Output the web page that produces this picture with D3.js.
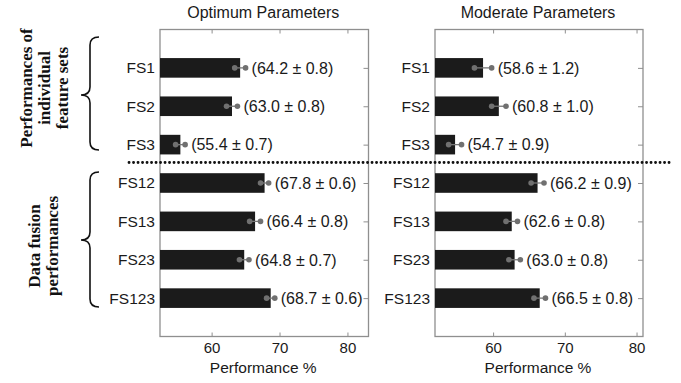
<!DOCTYPE html>
<html>
<head>
<meta charset="utf-8">
<script src="https://cdn.jsdelivr.net/npm/d3@7"></script>
<style>
  body { margin: 0; background: #fff; }
  svg { display: block; }
</style>
</head>
<body>
<svg width="681" height="383"></svg>
<script>
var categories = ["FS1", "FS2", "FS3", "FS12", "FS13", "FS23", "FS123"];
var optMean = [64.2, 63.0, 55.4, 67.8, 66.4, 64.8, 68.7];
var optSd   = [0.8, 0.8, 0.7, 0.6, 0.8, 0.7, 0.6];
var modMean = [58.6, 60.8, 54.7, 66.2, 62.6, 63.0, 66.5];
var modSd   = [1.2, 1.0, 0.9, 0.9, 0.8, 0.8, 0.8];
var xTicks = [60, 70, 80];
var panelTitles = ["Optimum Parameters", "Moderate Parameters"];
var axisTitle = "Performance %";

var svg = d3.select("svg");
var plotTop = 29.5, plotBottom = 336.5;
var sans = "'Liberation Sans', Arial, sans-serif";
var serif = "'Liberation Serif', 'Times New Roman', serif";
var frameColor = "#8f8f8f";

var y = d3.scalePoint()
    .domain(categories)
    .range([plotTop, plotBottom])
    .padding(1);

function drawPanel(left, right, domain, means, sds, title) {
  var x = d3.scaleLinear().domain(domain).range([left, right]);
  var g = svg.append("g");

  var rows = categories.map(function(c, i) {
    return {cat: c, mean: means[i], sd: sds[i]};
  });

  // bottom axis, ticks pointing in
  var bAxis = g.append("g")
      .attr("transform", "translate(0," + plotBottom + ")")
      .call(d3.axisBottom(x).tickValues(xTicks).tickSize(-4).tickPadding(6));
  bAxis.select(".domain").remove();
  bAxis.selectAll("line").attr("stroke", frameColor);
  bAxis.selectAll("text").attr("font-family", sans).attr("font-size", 15).attr("fill", "#1a1a1a");

  var tAxis = g.append("g")
      .attr("transform", "translate(0," + plotTop + ")")
      .call(d3.axisTop(x).tickValues(xTicks).tickSize(-4).tickFormat(""));
  tAxis.select(".domain").remove();
  tAxis.selectAll("line").attr("stroke", frameColor);

  var rAxis = g.append("g")
      .attr("transform", "translate(" + right + ",0)")
      .call(d3.axisRight(y).tickSize(-5).tickFormat(""));
  rAxis.select(".domain").remove();
  rAxis.selectAll("line").attr("stroke", frameColor);

  var lAxis = g.append("g")
      .attr("transform", "translate(" + left + ",0)")
      .call(d3.axisLeft(y).tickSize(0).tickPadding(5));
  lAxis.select(".domain").remove();
  lAxis.selectAll("text").attr("font-family", sans).attr("font-size", 15.5).attr("fill", "#1a1a1a");

  g.append("rect")
      .attr("x", left).attr("y", plotTop)
      .attr("width", right - left).attr("height", plotBottom - plotTop)
      .attr("fill", "none")
      .attr("stroke", frameColor)
      .attr("stroke-width", 1.3);

  g.selectAll(".bar")
    .data(rows)
    .enter().append("rect")
      .attr("class", "bar")
      .attr("x", x(domain[0]))
      .attr("y", function(d) { return y(d.cat) - 9.8; })
      .attr("width", function(d) { return x(d.mean) - x(domain[0]); })
      .attr("height", 19.6)
      .attr("fill", "#1b1b1b");

  g.selectAll(".err")
    .data(rows)
    .enter().append("line")
      .attr("class", "err")
      .attr("x1", function(d) { return x(d.mean - d.sd); })
      .attr("x2", function(d) { return x(d.mean + d.sd); })
      .attr("y1", function(d) { return y(d.cat); })
      .attr("y2", function(d) { return y(d.cat); })
      .attr("stroke", "#777")
      .attr("stroke-width", 1.3);

  [-1, 1].forEach(function(s) {
    g.selectAll(".dot" + s)
      .data(rows)
      .enter().append("circle")
        .attr("cx", function(d) { return x(d.mean + s * d.sd); })
        .attr("cy", function(d) { return y(d.cat); })
        .attr("r", 2.8)
        .attr("fill", "#707070");
  });

  g.selectAll(".val")
    .data(rows)
    .enter().append("text")
      .attr("class", "val")
      .attr("x", function(d) { return x(d.mean + d.sd) + 6; })
      .attr("y", function(d) { return y(d.cat); })
      .attr("dy", "0.36em")
      .attr("font-family", sans)
      .attr("font-size", 16)
      .attr("fill", "#1a1a1a")
      .text(function(d) { return "(" + d.mean.toFixed(1) + " \u00b1 " + d.sd.toFixed(1) + ")"; });

  g.append("text")
      .attr("x", (left + right) / 2 - 1)
      .attr("y", 18)
      .attr("text-anchor", "middle")
      .attr("font-family", sans)
      .attr("font-size", 16)
      .attr("fill", "#1a1a1a")
      .text(title);

  g.append("text")
      .attr("x", (left + right) / 2 - 1)
      .attr("y", 373)
      .attr("text-anchor", "middle")
      .attr("font-family", sans)
      .attr("font-size", 15.5)
      .attr("fill", "#1a1a1a")
      .text(axisTitle);
}

drawPanel(160, 368.5, [52.4, 83.1], optMean, optSd, panelTitles[0]);
drawPanel(435, 643, [51.9, 80.9], modMean, modSd, panelTitles[1]);

// separator between the two groups
svg.append("line")
    .attr("x1", 129).attr("x2", 672)
    .attr("y1", 162.5).attr("y2", 162.5)
    .attr("stroke", "#111")
    .attr("stroke-width", 2.8)
    .attr("stroke-linecap", "round")
    .attr("stroke-dasharray", "0.1,4.4");

// curly braces
function brace(xr, xm, xl, y0, ym, y1, q) {
  return "M" + xr + "," + y0 +
    " Q" + xm + "," + y0 + " " + xm + "," + (y0 + q) +
    " L" + xm + "," + (ym - q) +
    " Q" + xm + "," + ym + " " + xl + "," + ym +
    " Q" + xm + "," + ym + " " + xm + "," + (ym + q) +
    " L" + xm + "," + (y1 - q) +
    " Q" + xm + "," + y1 + " " + xr + "," + y1;
}
svg.append("path")
    .attr("d", brace(99, 90, 81, 37, 95, 150, 8))
    .attr("fill", "none").attr("stroke", "#111").attr("stroke-width", 1.6);
svg.append("path")
    .attr("d", brace(99, 90, 81, 172, 240, 307, 8))
    .attr("fill", "none").attr("stroke", "#111").attr("stroke-width", 1.6);

// group labels, rotated
function sideLabel(lines, xs, cy) {
  lines.forEach(function(t, i) {
    svg.append("text")
        .attr("transform", "translate(" + xs[i] + "," + cy + ") rotate(-90)")
        .attr("text-anchor", "middle")
        .attr("font-family", serif)
        .attr("font-weight", "bold")
        .attr("font-size", 17)
        .attr("fill", "#111")
        .text(t);
  });
}
sideLabel(["Performances of", "individual", "feature sets"], [32, 50, 68], 88);
sideLabel(["Data fusion", "performances"], [40, 58], 246);
</script>
</body>
</html>
